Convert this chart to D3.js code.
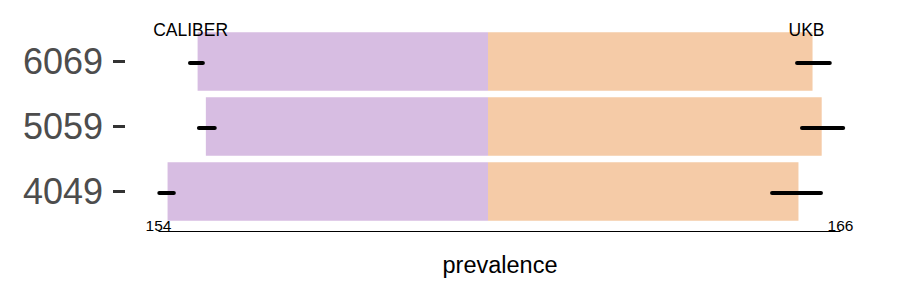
<!DOCTYPE html>
<html lang="en">
<head>
<meta charset="UTF-8">
<title>Prevalence CALIBER vs UKB</title>
<style>
  body { margin: 0; background: #fff; font-family: "Liberation Sans", Arial, sans-serif; }
  svg { display: block; }
</style>
</head>
<body>
<svg id="chart"></svg>
<script src="https://d3js.org/d3.v7.min.js"></script>
<script>
// age groups, top to bottom
const ageGroups = ['6069', '5059', '4049'];
// CALIBER (left side) and UKB (right side) prevalence with interval
const caliberValues = [8.80, 8.55, 9.71];
const caliberLow = [8.64, 8.28, 9.52];
const caliberHigh = [9.03, 8.76, 9.96];
const ukbValues = [9.22, 9.48, 8.82];
const ukbLow = [8.78, 8.92, 8.07];
const ukbHigh = [9.71, 10.09, 9.46];
const sourceNames = ['CALIBER', 'UKB'];
const axisTicks = [154, 166];

const width = 900, height = 300;
const mid = 488;

const svg = d3.select('#chart').attr('width', width).attr('height', height);

const y = d3.scaleBand().domain(ageGroups).range([29, 224])
  .paddingInner(0.1).paddingOuter(0.05);
const xLeft = d3.scaleLinear().domain([0, 10]).range([mid, 158]);
const xRight = d3.scaleLinear().domain([0, 10]).range([mid, 840]);
const xAxisScale = d3.scaleLinear().domain(axisTicks).range([158, 840]);

const rows = ageGroups.map((g, i) => ({
  g, cal: caliberValues[i], calLo: caliberLow[i], calHi: caliberHigh[i],
  ukb: ukbValues[i], ukbLo: ukbLow[i], ukbHi: ukbHigh[i]
}));

// bars
svg.selectAll('.cal').data(rows).enter().append('rect')
  .attr('x', d => xLeft(d.cal)).attr('y', d => y(d.g))
  .attr('width', d => mid - xLeft(d.cal)).attr('height', y.bandwidth())
  .attr('fill', '#d7bde2');
svg.selectAll('.ukb').data(rows).enter().append('rect')
  .attr('x', mid).attr('y', d => y(d.g))
  .attr('width', d => xRight(d.ukb) - mid).attr('height', y.bandwidth())
  .attr('fill', '#f5cba7');

// error bars
const errY = d => y(d.g) + y.bandwidth() / 2 + 1.5;
svg.selectAll('.calErr').data(rows).enter().append('line')
  .attr('x1', d => xLeft(d.calHi)).attr('x2', d => xLeft(d.calLo))
  .attr('y1', errY).attr('y2', errY)
  .attr('stroke', '#000').attr('stroke-width', 4).attr('stroke-linecap', 'round');
svg.selectAll('.ukbErr').data(rows).enter().append('line')
  .attr('x1', d => xRight(d.ukbLo)).attr('x2', d => xRight(d.ukbHi))
  .attr('y1', errY).attr('y2', errY)
  .attr('stroke', '#000').attr('stroke-width', 4).attr('stroke-linecap', 'round');

// source labels above top row
svg.append('text').attr('x', xLeft(caliberValues[0]) - 7).attr('y', 35.5)
  .attr('text-anchor', 'middle').attr('font-size', 17.5).text(sourceNames[0]);
svg.append('text').attr('x', xRight(ukbValues[0]) - 6).attr('y', 35.5)
  .attr('text-anchor', 'middle').attr('font-size', 17.5).text(sourceNames[1]);

// y axis labels and ticks
const yl = svg.append('g');
yl.selectAll('text').data(ageGroups).enter().append('text')
  .attr('x', 103).attr('y', d => y(d) + y.bandwidth() / 2)
  .attr('dy', '0.36em').attr('text-anchor', 'end')
  .attr('font-size', 36).attr('fill', '#4d4d4d').text(d => d);
yl.selectAll('line').data(ageGroups).enter().append('line')
  .attr('x1', 113).attr('x2', 125)
  .attr('y1', d => y(d) + y.bandwidth() / 2).attr('y2', d => y(d) + y.bandwidth() / 2)
  .attr('stroke', '#333').attr('stroke-width', 3);

// x axis
const xAxis = svg.append('g').attr('transform', 'translate(0,231)')
  .call(d3.axisBottom(xAxisScale).tickValues(axisTicks).tickSize(0).tickSizeOuter(0));
xAxis.select('.domain').attr('stroke', '#000').attr('stroke-width', 1);
xAxis.selectAll('text').attr('font-size', 15.5).attr('fill', '#000')
  .attr('font-family', '"Liberation Sans", Arial, sans-serif')
  .attr('y', 0).attr('dy', 0);

svg.append('text').attr('x', 500).attr('y', 273).attr('text-anchor', 'middle')
  .attr('font-size', 23.5).text('prevalence');
</script>
</body>
</html>
